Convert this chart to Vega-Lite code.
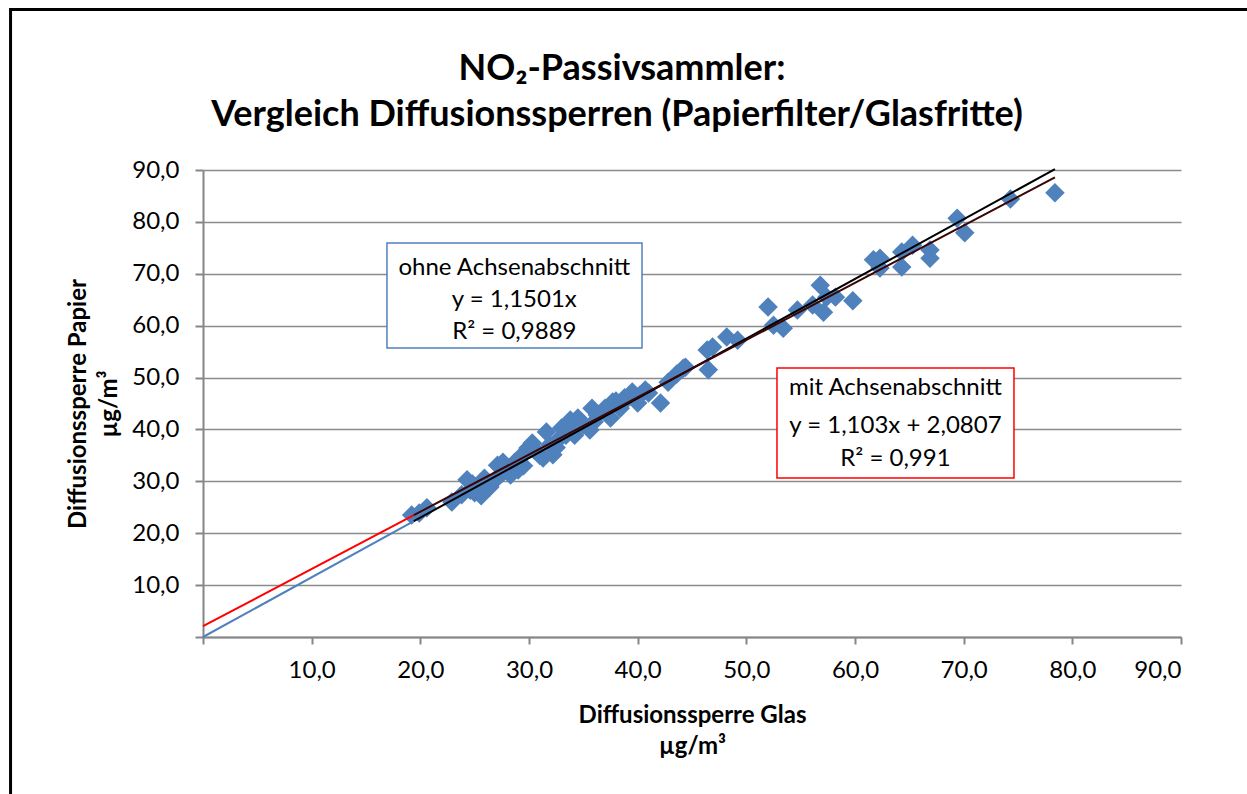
{
  "$schema": "https://vega.github.io/schema/vega-lite/v6.json",
  "autosize": "none",
  "width": 978,
  "height": 467,
  "padding": {"left": 203, "top": 170, "right": 66, "bottom": 157},
  "background": "white",
  "config": {
    "font": "Lato",
    "view": {"stroke": null},
    "axis": {"labelFont": "Lato", "titleFont": "Lato"}
  },
  "datasets": {
    "points": [
      {"glas": 19.2, "papier": 23.5}, {"glas": 19.9, "papier": 23.9}, {"glas": 20.6, "papier": 24.9},
      {"glas": 22.9, "papier": 26.0}, {"glas": 23.8, "papier": 27.4}, {"glas": 24.3, "papier": 30.3},
      {"glas": 24.6, "papier": 28.3}, {"glas": 24.8, "papier": 29.5}, {"glas": 25.0, "papier": 27.8},
      {"glas": 25.3, "papier": 28.7}, {"glas": 25.6, "papier": 27.2}, {"glas": 25.9, "papier": 30.6},
      {"glas": 26.0, "papier": 29.8}, {"glas": 26.4, "papier": 28.9}, {"glas": 26.9, "papier": 30.3},
      {"glas": 27.1, "papier": 33.1}, {"glas": 27.5, "papier": 31.5}, {"glas": 27.6, "papier": 33.7},
      {"glas": 28.0, "papier": 32.2}, {"glas": 28.3, "papier": 31.2}, {"glas": 28.7, "papier": 33.7},
      {"glas": 29.0, "papier": 32.2}, {"glas": 29.4, "papier": 35.1}, {"glas": 29.5, "papier": 33.0},
      {"glas": 29.9, "papier": 36.4}, {"glas": 30.3, "papier": 37.4}, {"glas": 30.5, "papier": 36.0},
      {"glas": 30.8, "papier": 35.5}, {"glas": 31.0, "papier": 35.0}, {"glas": 31.3, "papier": 34.5},
      {"glas": 31.6, "papier": 39.5}, {"glas": 31.9, "papier": 37.0}, {"glas": 32.2, "papier": 35.1},
      {"glas": 32.5, "papier": 36.5}, {"glas": 32.7, "papier": 38.0}, {"glas": 33.0, "papier": 40.3},
      {"glas": 33.4, "papier": 38.9}, {"glas": 33.5, "papier": 40.5}, {"glas": 33.8, "papier": 41.8},
      {"glas": 34.2, "papier": 38.9}, {"glas": 34.5, "papier": 42.2}, {"glas": 34.8, "papier": 41.5},
      {"glas": 35.0, "papier": 40.9}, {"glas": 35.6, "papier": 39.9}, {"glas": 35.8, "papier": 44.1},
      {"glas": 36.0, "papier": 41.5}, {"glas": 36.3, "papier": 42.8}, {"glas": 37.0, "papier": 44.1},
      {"glas": 37.5, "papier": 42.2}, {"glas": 37.7, "papier": 45.3}, {"glas": 38.0, "papier": 45.5},
      {"glas": 38.4, "papier": 44.1}, {"glas": 38.8, "papier": 46.1}, {"glas": 39.0, "papier": 45.8},
      {"glas": 39.5, "papier": 47.2}, {"glas": 40.0, "papier": 45.1}, {"glas": 40.2, "papier": 46.6},
      {"glas": 40.7, "papier": 47.6}, {"glas": 41.0, "papier": 47.0}, {"glas": 42.1, "papier": 45.1},
      {"glas": 42.8, "papier": 49.1}, {"glas": 43.6, "papier": 50.7}, {"glas": 44.2, "papier": 51.8},
      {"glas": 44.4, "papier": 52.0}, {"glas": 46.4, "papier": 55.3}, {"glas": 46.5, "papier": 51.5},
      {"glas": 46.9, "papier": 55.9}, {"glas": 48.2, "papier": 57.8}, {"glas": 49.2, "papier": 57.2},
      {"glas": 52.0, "papier": 63.6}, {"glas": 52.5, "papier": 60.1}, {"glas": 53.4, "papier": 59.5},
      {"glas": 54.7, "papier": 63.0}, {"glas": 56.1, "papier": 64.0}, {"glas": 56.8, "papier": 67.8},
      {"glas": 57.1, "papier": 62.6}, {"glas": 57.4, "papier": 65.5}, {"glas": 58.2, "papier": 65.5},
      {"glas": 59.8, "papier": 64.8}, {"glas": 61.7, "papier": 72.7}, {"glas": 62.3, "papier": 73.0},
      {"glas": 62.3, "papier": 71.1}, {"glas": 64.3, "papier": 74.2}, {"glas": 64.3, "papier": 71.3},
      {"glas": 65.3, "papier": 75.5}, {"glas": 66.9, "papier": 74.6}, {"glas": 66.9, "papier": 73.0},
      {"glas": 69.4, "papier": 80.7}, {"glas": 70.1, "papier": 77.9}, {"glas": 74.3, "papier": 84.4},
      {"glas": 78.4, "papier": 85.6}
    ],
    "lines": [
      {"series": "ohne_ext", "glas": 0, "papier": 0},
      {"series": "ohne_ext", "glas": 19.4, "papier": 22.31},
      {"series": "mit_ext", "glas": 0, "papier": 2.0807},
      {"series": "mit_ext", "glas": 19.4, "papier": 23.48},
      {"series": "ohne", "glas": 19.4, "papier": 22.31},
      {"series": "ohne", "glas": 78.4, "papier": 90.17},
      {"series": "mit", "glas": 19.4, "papier": 23.48},
      {"series": "mit", "glas": 78.4, "papier": 88.56}
    ],
    "boxes": [
      {"name": "ohne", "x1": 16.93, "x2": 40.4, "y1": 75.93, "y2": 55.7},
      {"name": "mit", "x1": 52.82, "x2": 74.63, "y1": 51.84, "y2": 30.64}
    ],
    "labels": [
      {"name": "ohne", "glas": 28.65, "papier": 71.1, "text": "ohne Achsenabschnitt"},
      {"name": "ohne", "glas": 28.65, "papier": 64.9, "text": "y = 1,1501x"},
      {"name": "ohne", "glas": 28.65, "papier": 58.8, "text": "R² = 0,9889"},
      {"name": "mit", "glas": 63.72, "papier": 48.0, "text": "mit Achsenabschnitt"},
      {"name": "mit", "glas": 63.72, "papier": 40.66, "text": "y = 1,103x + 2,0807"},
      {"name": "mit", "glas": 63.72, "papier": 34.3, "text": "R² = 0,991"}
    ],
    "titles": [
      {"glas": 38.56, "papier": 109.4, "text": "NO₂-Passivsammler:"},
      {"glas": 38.1, "papier": 100.6, "text": "Vergleich Diffusionssperren (Papierfilter/Glasfritte)"}
    ],
    "frame": [
      {"x1": -17.71, "x2": 200, "y1": 120.93, "y2": -100}
    ]
  },
  "layer": [
    {
      "data": {"name": "frame"},
      "mark": {"type": "rect", "fill": null, "stroke": "black", "strokeWidth": 3, "clip": false},
      "encoding": {
        "x": {"field": "x1", "type": "quantitative", "scale": {"domain": [0, 90], "nice": false}},
        "x2": {"field": "x2"},
        "y": {"field": "y1", "type": "quantitative", "scale": {"domain": [0, 90], "nice": false}},
        "y2": {"field": "y2"}
      }
    },
    {
      "data": {"name": "points"},
      "mark": {"type": "point", "shape": "diamond", "filled": true, "size": 380, "color": "#4F81BD", "opacity": 1},
      "encoding": {
        "x": {
          "field": "glas", "type": "quantitative",
          "scale": {"domain": [0, 90], "nice": false},
          "axis": {
            "values": [0, 10, 20, 30, 40, 50, 60, 70, 80, 90],
            "labelExpr": "datum.value == 0 ? '' : replace(format(datum.value, '.1f'), '.', ',')",
            "grid": false,
            "domainColor": "#868686", "domainWidth": 2,
            "tickColor": "#868686", "tickWidth": 2, "tickSize": 7,
            "labelFontSize": 24, "labelColor": "black", "labelPadding": 14,
            "title": ["Diffusionssperre Glas", "µg/m³"],
            "titleFontSize": 24, "titleFontWeight": "bold", "titleColor": "black",
            "titleLineHeight": 31, "titlePadding": 21
          }
        },
        "y": {
          "field": "papier", "type": "quantitative",
          "scale": {"domain": [0, 90], "nice": false},
          "axis": {
            "values": [0, 10, 20, 30, 40, 50, 60, 70, 80, 90],
            "labelExpr": "datum.value == 0 ? '' : replace(format(datum.value, '.1f'), '.', ',')",
            "grid": true, "gridColor": "#8c8c8c", "gridWidth": 1.5,
            "domainColor": "#868686", "domainWidth": 2,
            "tickColor": "#868686", "tickWidth": 2, "tickSize": 8,
            "labelFontSize": 24, "labelColor": "black", "labelPadding": 16,
            "title": ["Diffusionssperre Papier", "µg/m³"],
            "titleFontSize": 24, "titleFontWeight": "bold", "titleColor": "black",
            "titleLineHeight": 31, "titlePadding": 10
          }
        }
      }
    },
    {
      "data": {"name": "lines"},
      "mark": {"type": "line", "strokeWidth": 2},
      "encoding": {
        "x": {"field": "glas", "type": "quantitative"},
        "y": {"field": "papier", "type": "quantitative"},
        "color": {
          "field": "series", "type": "nominal", "legend": null,
          "scale": {"domain": ["ohne_ext", "mit_ext", "ohne", "mit"], "range": ["#4F81BD", "#FF0000", "#000000", "#3a0505"]}
        }
      }
    },
    {
      "data": {"name": "boxes"},
      "mark": {"type": "rect", "fill": "white", "strokeWidth": 1.5},
      "encoding": {
        "x": {"field": "x1", "type": "quantitative"},
        "x2": {"field": "x2"},
        "y": {"field": "y1", "type": "quantitative"},
        "y2": {"field": "y2"},
        "stroke": {
          "field": "name", "type": "nominal", "legend": null,
          "scale": {"domain": ["ohne", "mit"], "range": ["#4F81BD", "#FF0000"]}
        }
      }
    },
    {
      "data": {"name": "labels"},
      "mark": {"type": "text", "fontSize": 24, "font": "Lato", "color": "black", "align": "center", "baseline": "middle"},
      "encoding": {
        "x": {"field": "glas", "type": "quantitative"},
        "y": {"field": "papier", "type": "quantitative"},
        "text": {"field": "text"}
      }
    },
    {
      "data": {"name": "titles"},
      "mark": {"type": "text", "fontSize": 36, "fontWeight": "bold", "font": "Lato", "color": "black", "align": "center", "baseline": "middle", "clip": false},
      "encoding": {
        "x": {"field": "glas", "type": "quantitative"},
        "y": {"field": "papier", "type": "quantitative"},
        "text": {"field": "text"}
      }
    }
  ]
}
